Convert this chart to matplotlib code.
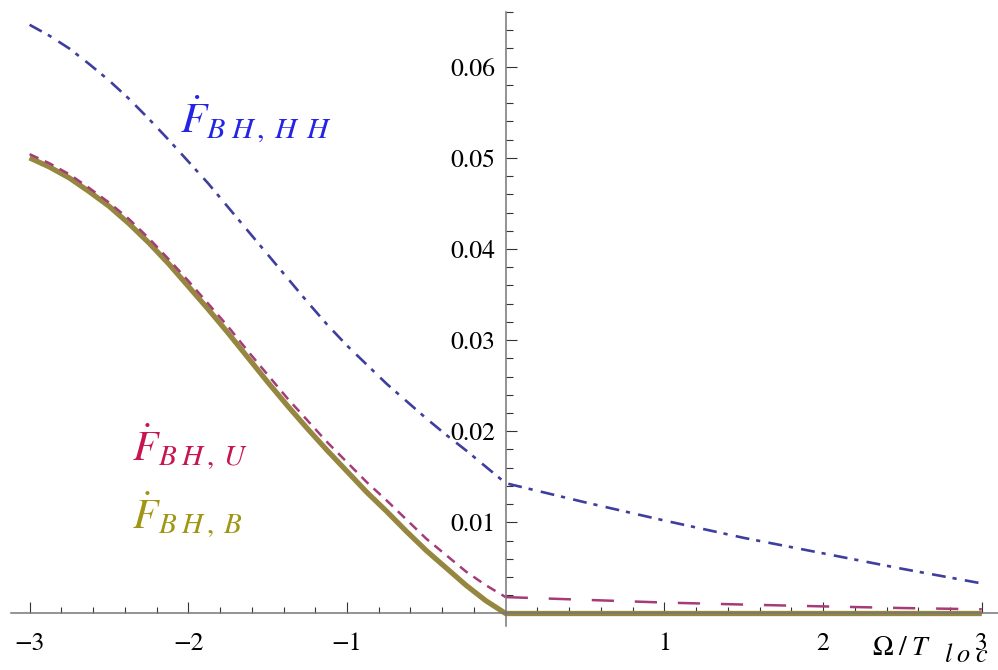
import matplotlib
matplotlib.use('Agg')
import matplotlib.pyplot as plt

plt.rcParams['mathtext.fontset'] = 'stix'
plt.rcParams['font.family'] = ['STIXGeneral', 'Liberation Serif', 'DejaVu Serif']
plt.rcParams['lines.scale_dashes'] = False

# ---------------- data ----------------
omega_neg = [-3.0, -2.875, -2.75, -2.625, -2.5, -2.375, -2.25, -2.125, -2.0,
             -1.875, -1.75, -1.625, -1.5, -1.375, -1.25, -1.125, -1.0,
             -0.875, -0.75, -0.625, -0.5, -0.375, -0.25, -0.125, 0.0]
omega_pos = [0.0, 0.5, 1.0, 1.5, 2.0, 2.5, 3.0]

hh_neg = [0.0646, 0.0634, 0.0620, 0.0603, 0.0585, 0.0565, 0.0543, 0.0520, 0.0496,
          0.0472, 0.0446, 0.0420, 0.0394, 0.0368, 0.0342, 0.0317, 0.0294,
          0.0273, 0.0252, 0.0233, 0.0214, 0.0196, 0.0179, 0.0161, 0.0143]
hh_pos = [0.0143, 0.0122, 0.0102, 0.0083, 0.0066, 0.0049, 0.0033]

u_neg = [0.0504, 0.0494, 0.0482, 0.0467, 0.0451, 0.0433, 0.0412, 0.0389, 0.0365,
         0.0340, 0.0315, 0.0288, 0.0262, 0.0236, 0.0212, 0.0188, 0.0166,
         0.0144, 0.0124, 0.0103, 0.0082, 0.0064, 0.0046, 0.0031, 0.0018]
u_pos = [0.0018, 0.0015, 0.0012, 0.00098, 0.00078, 0.0006, 0.00046]

b_neg = [0.0500, 0.0490, 0.0478, 0.0463, 0.0447, 0.0428, 0.0407, 0.0384, 0.0359,
         0.0334, 0.0308, 0.0281, 0.0254, 0.0228, 0.0203, 0.0179, 0.0156,
         0.0133, 0.0112, 0.0090, 0.0069, 0.0050, 0.0031, 0.0014, 0.0]
b_pos = [0.0, 0.0, 0.0, 0.0, 0.0, 0.0, 0.0]

x_major = [-3, -2, -1, 1, 2, 3]
x_major_labels = ['\u22123', '\u22122', '\u22121', '1', '2', '3']
y_major = [0.01, 0.02, 0.03, 0.04, 0.05, 0.06]
y_major_labels = ['0.01', '0.02', '0.03', '0.04', '0.05', '0.06']

label_hh = r'$\dot{F}_{B\;H\,,\;H\;\,H}$'
label_u = r'$\dot{F}_{B\;H\,,\;U}$'
label_b = r'$\dot{F}_{B\;H\,,\;B}$'
x_label_main = r'$\Omega\;/\;T$'
x_label_sub = r'$l\;o\;c$'

# ---------------- figure ----------------
fig = plt.figure(figsize=(9.98, 6.70), dpi=100)
ax = fig.add_axes([0, 0, 1, 1])
ax.set_xlim(-3.1865, 3.1021)
ax.set_ylim(-0.0062, 0.06732)

for s in ['top', 'right']:
    ax.spines[s].set_visible(False)
ax.spines['bottom'].set_position(('data', 0))
ax.spines['left'].set_position(('data', 0))
ax.spines['bottom'].set_bounds(-3.12, 3.1021)
ax.spines['left'].set_bounds(-0.00135, 0.066)
for s in ['bottom', 'left']:
    ax.spines[s].set_color('#777777')
    ax.spines[s].set_linewidth(1.1)

ax.set_xticks(x_major)
ax.set_xticklabels(x_major_labels)
x_minor = [v / 5 for v in range(-14, 15) if v % 5 != 0]
ax.set_xticks(x_minor, minor=True)
ax.set_yticks(y_major)
ax.set_yticklabels(y_major_labels)
y_minor = [v / 500 for v in range(1, 34) if v % 5 != 0]
ax.set_yticks(y_minor, minor=True)

ax.tick_params(axis='x', which='major', direction='in', length=7.9, width=0.8,
               color='#333333', pad=13, labelsize=18.5)
ax.tick_params(axis='x', which='minor', direction='in', length=4.5, width=0.8,
               color='#333333')
ax.tick_params(axis='y', which='major', direction='in', length=7.9, width=0.8,
               color='#333333', pad=7.5, labelsize=18.5)
ax.tick_params(axis='y', which='minor', direction='in', length=5.0, width=0.8,
               color='#333333')

# ---------------- curves ----------------
omega_all = omega_neg + omega_pos[1:]
ax.plot(omega_all, b_neg + b_pos[1:], color='#968740', lw=3.8,
        solid_capstyle='butt', solid_joinstyle='round', zorder=2)
ax.plot(omega_neg, u_neg, color='#A53C78', lw=1.8, dashes=[7, 5],
        dash_capstyle='butt', zorder=2.2)
ax.plot(omega_pos, u_pos, color='#A53C78', lw=1.8, dashes=[16, 15],
        dash_capstyle='butt', zorder=2.2)
ax.plot(omega_all, hh_neg + hh_pos[1:], color='#3E3E9E', lw=1.9,
        dashes=[10, 5, 3, 6], dash_capstyle='butt', zorder=2.2)

# ---------------- labels ----------------
ax.text(-2.052, 0.0528, label_hh, color='#2424E6', fontsize=31,
        ha='left', va='baseline')
ax.text(-2.357, 0.01684, label_u, color='#C81450', fontsize=30,
        ha='left', va='baseline')
ax.text(-2.357, 0.00938, label_b, color='#A09614', fontsize=30,
        ha='left', va='baseline')
ax.text(2.308, -0.00455, x_label_main, color='black', fontsize=20,
        ha='left', va='baseline')
ax.text(2.762, -0.00532, x_label_sub, color='black', fontsize=19,
        ha='left', va='baseline')

fig.savefig('out.png', dpi=100)
